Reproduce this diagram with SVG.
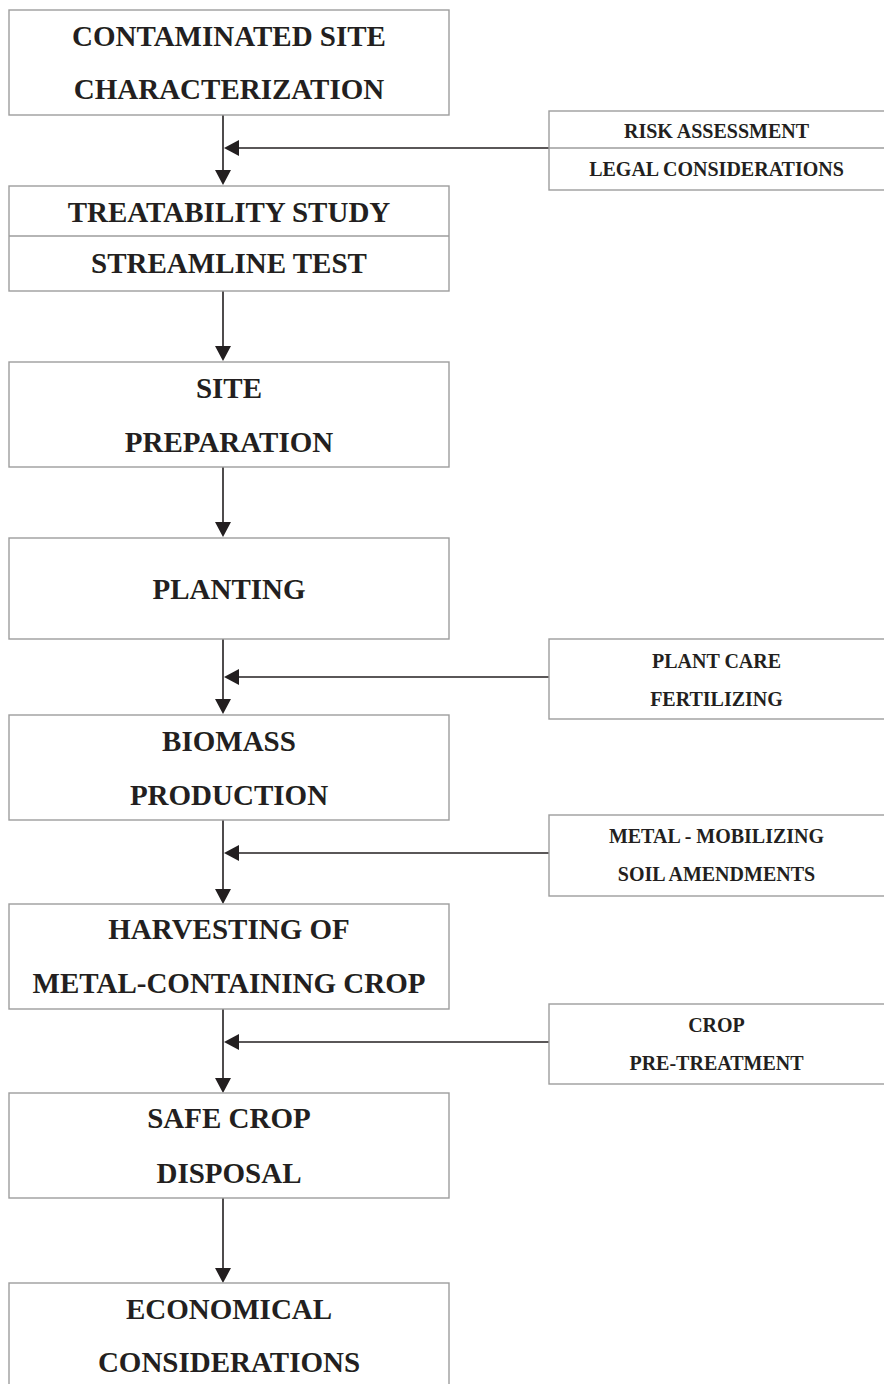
<svg xmlns="http://www.w3.org/2000/svg" width="884" height="1384" viewBox="0 0 884 1384">
<defs>
<style>
.box{fill:#fff;stroke:#9d9d9d;stroke-width:1.4}
.div{stroke:#9d9d9d;stroke-width:1.4}
.t{font-family:"Liberation Serif","Times New Roman",serif;font-weight:bold;font-size:29px;fill:#231f20;text-anchor:middle}
.s{font-family:"Liberation Serif","Times New Roman",serif;font-weight:bold;font-size:20px;fill:#231f20;text-anchor:middle}
.c{stroke:#231f20;stroke-width:1.6;fill:none}
.ah{fill:#231f20}
</style>
</defs>
<rect width="884" height="1384" fill="#fff"/>
<g id="connectors">
<line class="c" x1="223" y1="115" x2="223" y2="172"/>
<polygon class="ah" points="215,170 231,170 223,185"/>
<line class="c" x1="549" y1="148" x2="237" y2="148"/>
<polygon class="ah" points="224,148 239,140 239,156"/>
<line class="c" x1="223" y1="291" x2="223" y2="348"/>
<polygon class="ah" points="215,346 231,346 223,361"/>
<line class="c" x1="223" y1="467" x2="223" y2="524"/>
<polygon class="ah" points="215,522 231,522 223,537"/>
<line class="c" x1="223" y1="639" x2="223" y2="701"/>
<polygon class="ah" points="215,699 231,699 223,714"/>
<line class="c" x1="549" y1="677" x2="237" y2="677"/>
<polygon class="ah" points="224,677 239,669 239,685"/>
<line class="c" x1="223" y1="820" x2="223" y2="891"/>
<polygon class="ah" points="215,889 231,889 223,904"/>
<line class="c" x1="549" y1="853" x2="237" y2="853"/>
<polygon class="ah" points="224,853 239,845 239,861"/>
<line class="c" x1="223" y1="1008" x2="223" y2="1080"/>
<polygon class="ah" points="215,1078 231,1078 223,1093"/>
<line class="c" x1="549" y1="1042" x2="237" y2="1042"/>
<polygon class="ah" points="224,1042 239,1034 239,1050"/>
<line class="c" x1="223" y1="1197" x2="223" y2="1270"/>
<polygon class="ah" points="215,1268 231,1268 223,1283"/>
</g>
<g id="n1">
<rect class="box" x="9" y="10" width="440" height="105"/>
<text class="t" x="229" y="46">CONTAMINATED SITE</text>
<text class="t" x="229" y="99">CHARACTERIZATION</text>
</g>
<g id="s1">
<rect class="box" x="549" y="111" width="345" height="79"/>
<line class="div" x1="549" y1="148" x2="884" y2="148"/>
<text class="s" x="716.5" y="138">RISK ASSESSMENT</text>
<text class="s" x="716.5" y="176">LEGAL CONSIDERATIONS</text>
</g>
<g id="n2">
<rect class="box" x="9" y="186" width="440" height="105"/>
<line class="div" x1="9" y1="236" x2="449" y2="236"/>
<text class="t" x="229" y="222">TREATABILITY STUDY</text>
<text class="t" x="229" y="273">STREAMLINE TEST</text>
</g>
<g id="n3">
<rect class="box" x="9" y="362" width="440" height="105"/>
<text class="t" x="229" y="398">SITE</text>
<text class="t" x="229" y="452">PREPARATION</text>
</g>
<g id="n4">
<rect class="box" x="9" y="538" width="440" height="101"/>
<text class="t" x="229" y="599">PLANTING</text>
</g>
<g id="s2">
<rect class="box" x="549" y="639" width="345" height="80"/>
<text class="s" x="716.5" y="668">PLANT CARE</text>
<text class="s" x="716.5" y="706">FERTILIZING</text>
</g>
<g id="n5">
<rect class="box" x="9" y="715" width="440" height="105"/>
<text class="t" x="229" y="751">BIOMASS</text>
<text class="t" x="229" y="805">PRODUCTION</text>
</g>
<g id="s3">
<rect class="box" x="549" y="815" width="345" height="81"/>
<text class="s" x="716.5" y="843">METAL - MOBILIZING</text>
<text class="s" x="716.5" y="881">SOIL AMENDMENTS</text>
</g>
<g id="n6">
<rect class="box" x="9" y="904" width="440" height="105"/>
<text class="t" x="229" y="939">HARVESTING OF</text>
<text class="t" x="229" y="993">METAL-CONTAINING CROP</text>
</g>
<g id="s4">
<rect class="box" x="549" y="1004" width="345" height="80"/>
<text class="s" x="716.5" y="1032">CROP</text>
<text class="s" x="716.5" y="1070">PRE-TREATMENT</text>
</g>
<g id="n7">
<rect class="box" x="9" y="1093" width="440" height="105"/>
<text class="t" x="229" y="1128">SAFE CROP</text>
<text class="t" x="229" y="1183">DISPOSAL</text>
</g>
<g id="n8">
<rect class="box" x="9" y="1283" width="440" height="120"/>
<text class="t" x="229" y="1319">ECONOMICAL</text>
<text class="t" x="229" y="1372">CONSIDERATIONS</text>
</g>
</svg>
